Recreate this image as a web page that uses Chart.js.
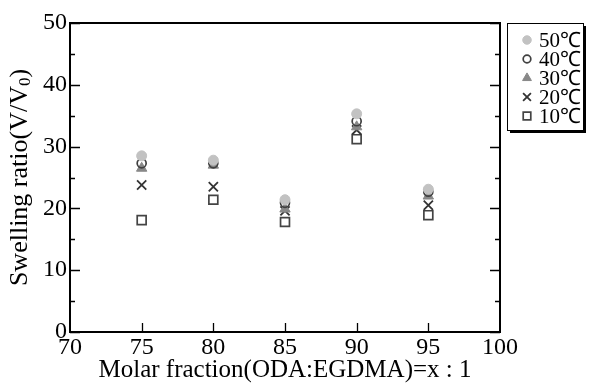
<!DOCTYPE html>
<html>
<head>
<meta charset="utf-8">
<script src="https://cdn.jsdelivr.net/npm/chart.js@4"></script>
<style>
  html, body { margin: 0; padding: 0; background: #fff; }
  #wrap { width: 589px; height: 385px; }
</style>
</head>
<body>
<div id="wrap"><canvas id="myChart" width="589" height="385"></canvas></div>
<script>
'use strict';

let fractions = [75, 80, 85, 90, 95];
let temps = ['50℃', '40℃', '30℃', '20℃', '10℃'];
let ratio50 = [28.5, 27.8, 21.4, 35.3, 23.1];
let ratio40 = [27.3, 27.3, 20.9, 34.1, 22.7];
let ratio30 = [26.5, 27.0, 19.9, 33.2, 22.0];
let ratio20 = [23.8, 23.5, 19.6, 32.7, 20.5];
let ratio10 = [18.1, 21.4, 17.8, 31.2, 18.9];
let yTicks = [0, 10, 20, 30, 40, 50];
let xTicks = [70, 75, 80, 85, 90, 95, 100];

let serif = "'Liberation Serif', 'Times New Roman', serif";

function toPoints(vals) {
    return fractions.map(function (f, i) { return { x: f, y: vals[i] }; });
}

let styles = [
    { pointStyle: 'circle', radius: 5, bg: '#c2c2c2', border: '#c2c2c2', bw: 1 },
    { pointStyle: 'circle', radius: 4.5, bg: 'rgba(255,255,255,0)', border: '#404040', bw: 1.7 },
    { pointStyle: 'triangle', radius: 6, bg: '#888', border: '#888', bw: 1 },
    { pointStyle: 'crossRot', radius: 6.5, bg: '#333', border: '#333', bw: 1.8 },
    { pointStyle: 'rect', radius: 6.3, bg: 'rgba(255,255,255,0)', border: '#444', bw: 1.7 }
];
let series = [ratio50, ratio40, ratio30, ratio20, ratio10];

let datasets = series.map(function (vals, i) {
    return {
        label: temps[i],
        data: toPoints(vals),
        pointStyle: styles[i].pointStyle,
        pointRadius: styles[i].radius,
        pointBackgroundColor: styles[i].bg,
        pointBorderColor: styles[i].border,
        pointBorderWidth: styles[i].bw,
        showLine: false
    };
});

// inward ticks, frame, y title with subscript and the boxed legend
let framePlugin = {
    id: 'frame',
    afterDatasetsDraw: function (chart) {
        let ctx = chart.ctx;
        let a = chart.chartArea;
        let xs = chart.scales.x;
        let ys = chart.scales.y;
        ctx.save();
        ctx.strokeStyle = '#000';
        ctx.lineWidth = 2;
        ctx.strokeRect(a.left, a.top, a.right - a.left, a.bottom - a.top);
        ctx.lineWidth = 1.3;
        ctx.beginPath();
        for (let v = 0; v <= 50; v += 5) {
            let y = Math.round(ys.getPixelForValue(v)) + 0.5;
            let len = (v % 10 === 0) ? 10 : 5;
            ctx.moveTo(a.left, y); ctx.lineTo(a.left + len, y);
            ctx.moveTo(a.right, y); ctx.lineTo(a.right - len, y);
        }
        for (let v = 75; v < 100; v += 5) {
            let x = Math.round(xs.getPixelForValue(v)) + 0.5;
            ctx.moveTo(x, a.bottom); ctx.lineTo(x, a.bottom - 9);
        }
        ctx.stroke();

        // y title: Swelling ratio(V/V0) with a real subscript
        ctx.save();
        ctx.translate(20, (a.top + a.bottom) / 2);
        ctx.rotate(-Math.PI / 2);
        ctx.fillStyle = '#000';
        ctx.textBaseline = 'middle';
        ctx.textAlign = 'left';
        let big = '26px ' + serif, small = '17px ' + serif;
        ctx.font = big;
        let p1 = 'Swelling ratio(V/V', p3 = ')';
        let w1 = ctx.measureText(p1).width, w3 = ctx.measureText(p3).width;
        ctx.font = small;
        let w2 = ctx.measureText('0').width;
        let x0 = -(w1 + w2 + w3) / 2;
        ctx.font = big;
        ctx.fillText(p1, x0, 0);
        ctx.font = small;
        ctx.fillText('0', x0 + w1, 6);
        ctx.font = big;
        ctx.fillText(p3, x0 + w1 + w2, 0);
        ctx.restore();

        // legend
        let lx = 507, ly = 23, lw = 76, lh = 107;
        ctx.fillStyle = '#000';
        ctx.fillRect(lx + 3, ly + 3, lw, lh);
        ctx.fillStyle = '#fff';
        ctx.fillRect(lx, ly, lw, lh);
        ctx.lineWidth = 1;
        ctx.strokeStyle = '#000';
        ctx.strokeRect(lx + 0.5, ly + 0.5, lw, lh);
        ctx.font = '21px ' + serif;
        ctx.textBaseline = 'middle';
        ctx.textAlign = 'left';
        for (let i = 0; i < temps.length; i++) {
            let cy = ly + 17 + i * 19;
            ctx.fillStyle = styles[i].bg;
            ctx.strokeStyle = styles[i].border;
            ctx.lineWidth = styles[i].bw;
            Chart.helpers.drawPoint(ctx, {
                pointStyle: styles[i].pointStyle,
                radius: styles[i].radius * 0.85,
                rotation: 0,
                borderWidth: styles[i].bw
            }, lx + 20, cy);
            ctx.fillStyle = '#000';
            ctx.fillText(temps[i], lx + 32, cy + 1);
        }
        ctx.restore();
    }
};

let ctx = document.getElementById('myChart').getContext('2d');
let myChart = new Chart(ctx, {
    type: 'scatter',
    data: { datasets: datasets },
    options: {
        responsive: false,
        animation: false,
        layout: { padding: { top: 23, right: 89, left: 0, bottom: 0 } },
        plugins: { legend: { display: false }, tooltip: { enabled: false } },
        scales: {
            x: {
                type: 'linear',
                min: 70, max: 100,
                afterBuildTicks: function (s) { s.ticks = xTicks.map(function (v) { return { value: v }; }); },
                afterFit: function (s) { s.height = 53; },
                grid: { display: false, drawTicks: false },
                border: { display: false },
                ticks: { color: '#000', font: { family: serif, size: 24 }, padding: 1, maxRotation: 0 },
                title: { display: true, text: 'Molar fraction(ODA:EGDMA)=x : 1', color: '#000', font: { family: serif, size: 25 }, padding: { top: -7, bottom: 0 } }
            },
            y: {
                type: 'linear',
                min: 0, max: 50,
                afterBuildTicks: function (s) { s.ticks = yTicks.map(function (v) { return { value: v }; }); },
                afterFit: function (s) { s.width = 70; },
                grid: { display: false, drawTicks: false },
                border: { display: false },
                ticks: { color: '#000', font: { family: serif, size: 24 }, padding: 3 },
                title: { display: false }
            }
        }
    },
    plugins: [framePlugin]
});
</script>
</body>
</html>
